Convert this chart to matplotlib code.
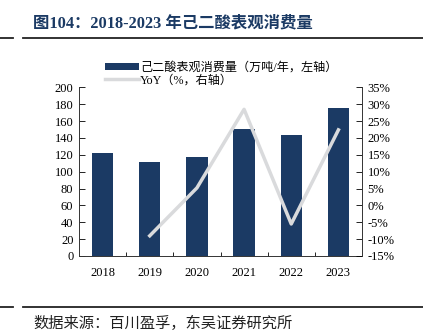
import numpy as np
import matplotlib
matplotlib.use('Agg')
from matplotlib import pyplot as plt
from matplotlib.lines import Line2D

plt.rcParams['font.family'] = ['Liberation Serif', 'Noto Sans CJK SC', 'DejaVu Sans']

years = ['2018', '2019', '2020', '2021', '2022', '2023']
consumption = [122, 111.5, 117, 151, 143, 175]          # 万吨/年
yoy = [np.nan, -9.0, 5.2, 28.5, -5.5, 22.4]              # %

left_ticks = list(range(0, 201, 20))
right_ticks = list(range(-15, 36, 5))

navy = '#1b3a64'
grey = '#d9dadc'

fig = plt.figure(figsize=(4.23, 3.36), dpi=100)

# title and the two rules around the chart
fig.text(33 / 423, 1 - 23 / 336, '图104：2018-2023 年己二酸表观消费量',
         fontsize=11.8, fontweight='bold', color=navy, va='center', ha='left')
for y in (38, 307):
    yy = 1 - y / 336
    fig.add_artist(Line2D([0, 13 / 423], [yy, yy], color='#222222', lw=1.3))
    fig.add_artist(Line2D([23 / 423, 1], [yy, yy], color='#222222', lw=1.3))
fig.text(33 / 423, 1 - 323 / 336, '数据来源：百川盈孚，东吴证券研究所',
         fontsize=11, color='#222222', va='center', ha='left')

ax = fig.add_axes([79 / 423, 80 / 336, 283 / 423, 168.6 / 336])
x = np.arange(len(years))
bars = ax.bar(x, consumption, width=0.45, color=navy, zorder=2,
              label='己二酸表观消费量（万吨/年，左轴）')
ax.set_xlim(-0.5, len(years) - 0.5)
ax.set_ylim(0, 200)
ax.set_yticks(left_ticks)
ax.set_xticks(x)
ax.set_xticklabels(years)
ax.set_xticks(np.arange(0.5, len(years) - 1, 1), minor=True)
ax.tick_params(axis='x', which='major', length=0, pad=8, labelsize=9)
ax.tick_params(axis='x', which='minor', direction='in', length=3, width=0.6)
ax.tick_params(axis='y', direction='in', length=4, width=0.6, labelsize=9, pad=4)
ax.spines['top'].set_visible(False)
ax.spines['right'].set_visible(False)
for s in ('left', 'bottom'):
    ax.spines[s].set_linewidth(0.7)
    ax.spines[s].set_color('#333333')

ax2 = ax.twinx()
line, = ax2.plot(x, yoy, color=grey, lw=2.5, zorder=3, label='YoY（%，右轴）')
ax2.set_ylim(-15, 35)
ax2.set_yticks(right_ticks)
ax2.set_yticklabels([f'{t}%' for t in right_ticks])
ax2.tick_params(axis='y', direction='in', length=4, width=0.6, labelsize=9, pad=4)
ax2.spines['top'].set_visible(False)
ax2.spines['left'].set_visible(False)
ax2.spines['bottom'].set_visible(False)
ax2.spines['right'].set_linewidth(0.7)
ax2.spines['right'].set_color('#333333')

fig.legend(handles=[bars, line], loc='upper left',
           bbox_to_anchor=(100 / 423, 1 - 57 / 336), frameon=False,
           fontsize=8.7, handlelength=2.8, handleheight=0.6,
           handletextpad=0.1, labelspacing=0.05, borderaxespad=0)

fig.savefig('out.png', dpi=100)
